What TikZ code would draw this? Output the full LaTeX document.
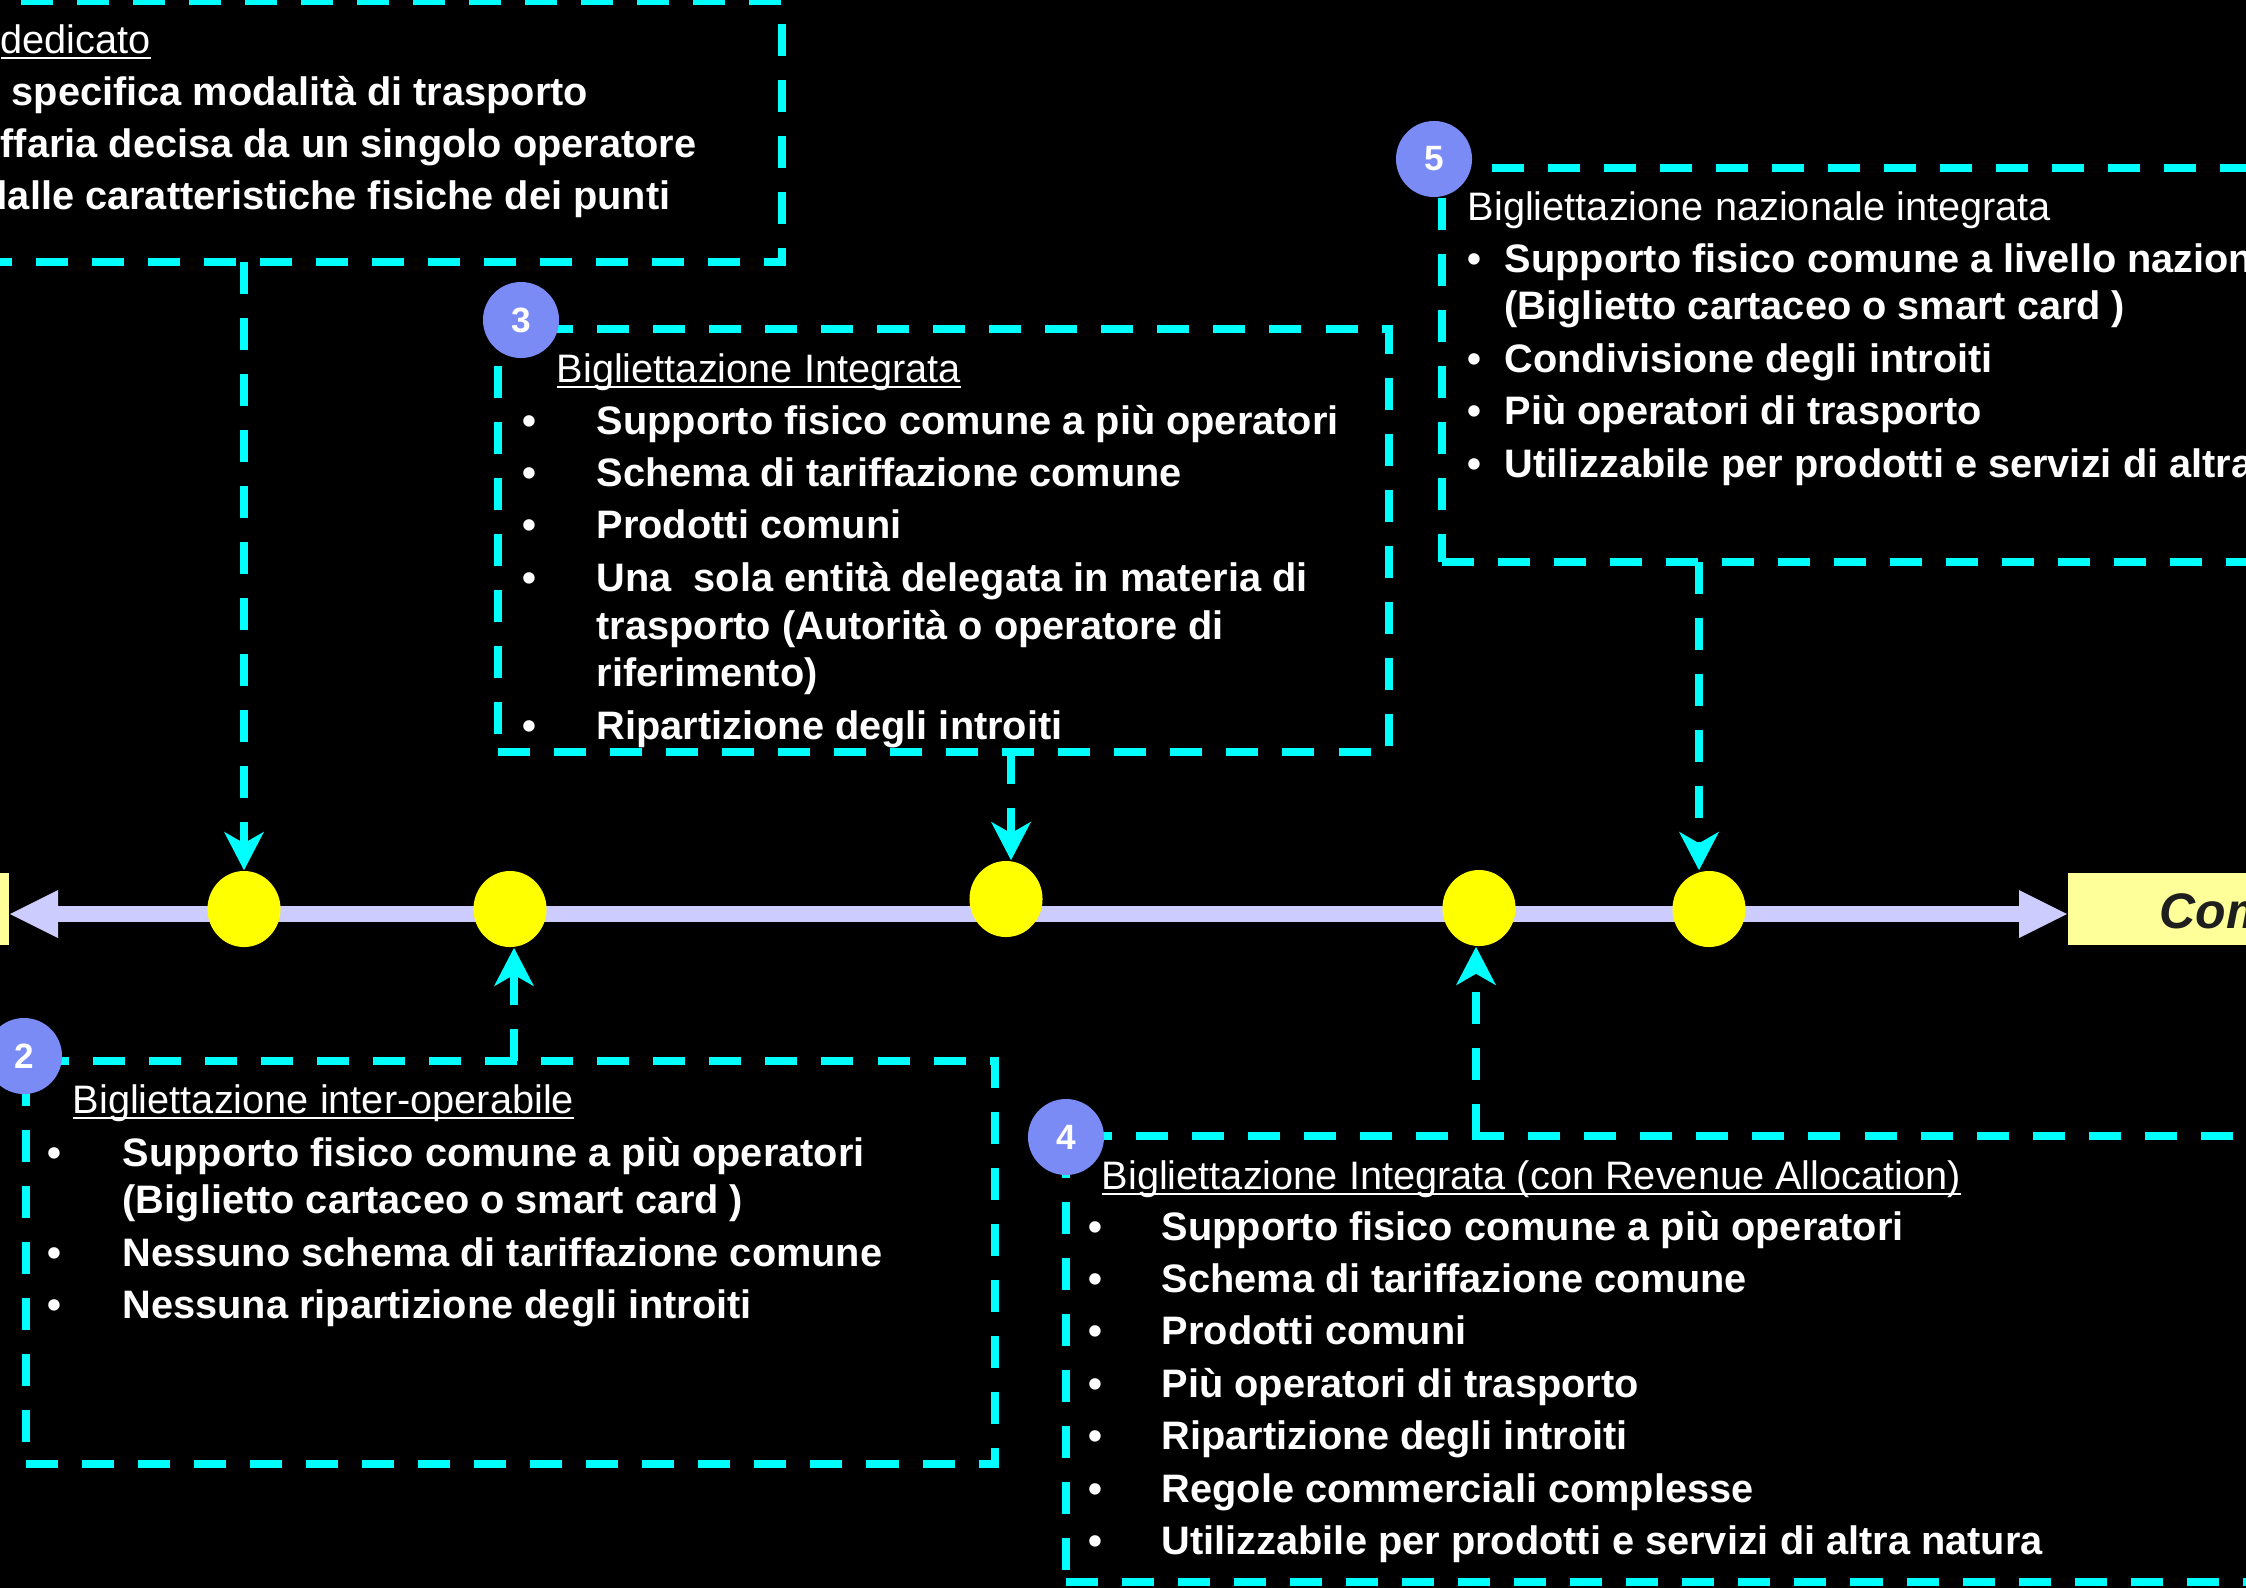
\documentclass[tikz,border=0pt]{standalone}
\usepackage{fontspec}
\setmainfont{Liberation Sans}
\usetikzlibrary{arrows.meta,shapes.geometric}
\definecolor{dashcyan}{HTML}{00FFFF}
\definecolor{axislilac}{HTML}{CCCCFF}
\definecolor{dotyellow}{HTML}{FFFF00}
\definecolor{endyellow}{HTML}{FFFF99}
\definecolor{badgeblue}{HTML}{7A8BF5}
\definecolor{endtext}{HTML}{1E1E1E}
\newcommand{\uln}[1]{\setbox0\hbox{#1}\rlap{\vrule height -1.1pt depth 1.7pt width \wd0}\box0}
\tikzset{%
    >={Stealth[length=3.8mm,width=3.9mm,inset=1.1mm]},
    dashbox/.style={draw=dashcyan, line width=0.8mm, dash pattern=on 3.2mm off 2.4mm, inner sep=0, outer sep=0},
    link/.style={draw=dashcyan, line width=0.8mm, dash pattern=on 3.2mm off 2.4mm, ->},
    stopdot/.style={ellipse, fill=dotyellow, minimum width=7.3mm, minimum height=7.6mm, inner sep=0},
    numdot/.style={circle, fill=badgeblue, minimum size=7.6mm, inner sep=0, text=white, font=\fontsize{10}{12}\selectfont\bfseries},
    headtxt/.style={text=white, inner sep=0, anchor=base west, font=\fontsize{11.3}{13.6}\selectfont},
    itemtxt/.style={headtxt, font=\fontsize{11.3}{13.6}\selectfont\bfseries}
}

\begin{document}
\begin{tikzpicture}[x=0.01cm, y=-0.01cm]
        \useasboundingbox (0,0) rectangle (2246,1587);
        \fill[black] (-20,-20) rectangle (2266,1607);

        % frames
        \node[dashbox, anchor=north east, minimum width=10.82cm, minimum height=2.61cm] (box1) at (782,1) {};
        \node[dashbox, anchor=north west, minimum width=8.90cm, minimum height=4.23cm] (box3) at (498,329) {};
        \node[dashbox, anchor=north west, minimum width=9.08cm, minimum height=3.94cm] (box5) at (1442,168) {};
        \node[dashbox, anchor=north west, minimum width=9.68cm, minimum height=4.03cm] (box2) at (26,1061) {};
        \node[dashbox, anchor=north west, minimum width=12.84cm, minimum height=4.46cm] (box4) at (1066,1136) {};

        % texts
        \node[headtxt] (h1) at (0,53) {\uln{dedicato}};
        \node[itemtxt] (t1) at (0,105) {\begin{tabular}[t]{@{}l@{}}
            \hspace{0.11cm}specifica modalità di trasporto\\[1.3pt]
            ffaria decisa da un singolo operatore\\[1.3pt]
            \hspace{-0.17cm}dalle caratteristiche fisiche dei punti
        \end{tabular}};

        \node[headtxt] (h3) at (556,382) {\uln{Bigliettazione Integrata}};
        \node[itemtxt] (t3) at (522,434) {\begin{tabular}[t]{@{}p{7.4mm}@{}l@{}}
            • & Supporto fisico comune a più operatori\\[1.3pt]
            • & Schema di tariffazione comune\\[1.3pt]
            • & Prodotti comuni\\[1.3pt]
            • & Una\ \ sola entità delegata in materia di\\
              & trasporto (Autorità o operatore di\\
              & riferimento)\\[1.3pt]
            • & Ripartizione degli introiti
        \end{tabular}};

        \node[headtxt] (h5) at (1467,220) {Bigliettazione nazionale integrata};
        \node[itemtxt] (t5) at (1467,272) {\begin{tabular}[t]{@{}p{3.7mm}@{}l@{}}
            • & Supporto fisico comune a livello nazion\\
              & (Biglietto cartaceo o smart card )\\[1.3pt]
            • & Condivisione degli introiti\\[1.3pt]
            • & Più operatori di trasporto\\[1.3pt]
            • & Utilizzabile per prodotti e servizi di altra
        \end{tabular}};

        \node[headtxt] (h2) at (72,1113) {\uln{Bigliettazione inter-operabile}};
        \node[itemtxt] (t2) at (47,1166) {\begin{tabular}[t]{@{}p{7.5mm}@{}l@{}}
            • & Supporto fisico comune a più operatori\\
              & (Biglietto cartaceo o smart card )\\[1.3pt]
            • & Nessuno schema di tariffazione comune\\[1.3pt]
            • & Nessuna ripartizione degli introiti
        \end{tabular}};

        \node[headtxt] (h4) at (1101,1189) {\uln{Bigliettazione Integrata (con Revenue Allocation)}};
        \node[itemtxt] (t4) at (1088,1240) {\begin{tabular}[t]{@{}p{7.3mm}@{}l@{}}
            • & Supporto fisico comune a più operatori\\[1.3pt]
            • & Schema di tariffazione comune\\[1.3pt]
            • & Prodotti comuni\\[1.3pt]
            • & Più operatori di trasporto\\[1.3pt]
            • & Ripartizione degli introiti\\[1.3pt]
            • & Regole commerciali complesse\\[1.3pt]
            • & Utilizzabile per prodotti e servizi di altra natura
        \end{tabular}};

        % badges
        \node[numdot] (n2) at (24,1056) {2};
        \node[numdot] (n3) at (521,320) {3};
        \node[numdot] (n4) at (1066,1137) {4};
        \node[numdot] (n5) at (1434,159) {5};

        % time line
        \node[fill=endyellow, anchor=east, minimum width=2cm, minimum height=7.2mm, inner sep=0] (lbox) at (10,909) {};
        \node[fill=endyellow, anchor=west, minimum width=3cm, minimum height=7.2mm, inner sep=0] (rbox) at (2067,909) {};
        \node[anchor=base west, inner sep=0, text=endtext, font=\fontsize{14.2}{17}\selectfont\bfseries\itshape] (rtext) at (2159,928) {Com};
        \draw[color=axislilac, line width=1.6mm, {Triangle[length=4.8mm,width=4.8mm,line width=0pt]}-{Triangle[length=4.8mm,width=4.8mm,line width=0pt]}] ([yshift=-0.05cm]lbox.east) -- ([yshift=-0.05cm]rbox.west);

        \node[stopdot] (c1) at (244,909) {};
        \node[stopdot] (c2) at (510,909) {};
        \node[stopdot] (c3) at (1006,899) {};
        \node[stopdot] (c4) at (1479,908) {};
        \node[stopdot] (c5) at (1709,909) {};

        % connectors
        \draw[link] (box1.south -| c1) -- (c1.north);
        \draw[link] ([xshift=0.05cm]box3.south -| c3) -- ([xshift=0.05cm]c3.north);
        \draw[link] ([xshift=-0.1cm]box5.south -| c5) -- ([xshift=-0.1cm]c5.north);
        \draw[link] ([xshift=0.04cm]box2.north -| c2) -- ([xshift=0.04cm]c2.south);
        \draw[link] ([xshift=-0.03cm]box4.north -| c4) -- ([xshift=-0.03cm]c4.south);
    \end{tikzpicture}
\end{document}
